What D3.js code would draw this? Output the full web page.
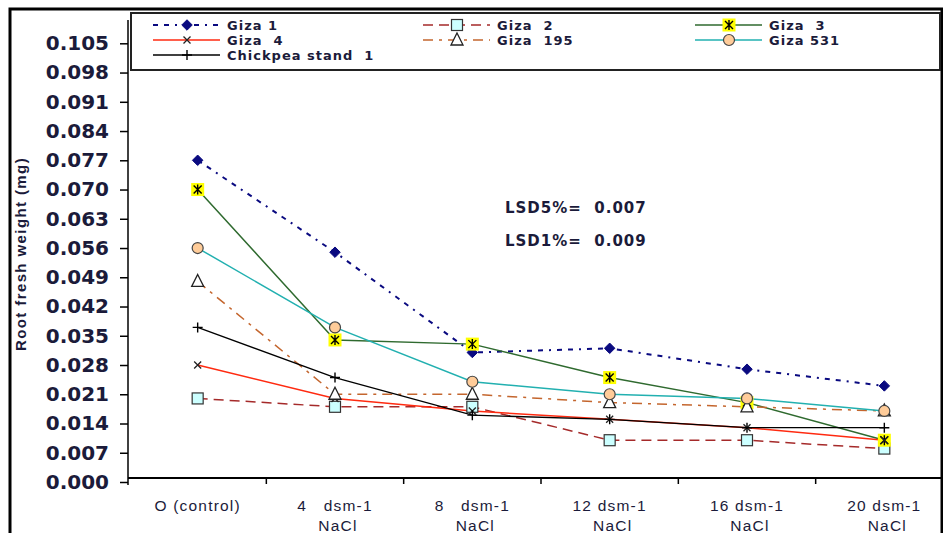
<!DOCTYPE html>
<html>
<head>
<meta charset="utf-8">
<script src="https://cdn.jsdelivr.net/npm/d3@7/dist/d3.min.js"></script>
<style>
  html, body { margin: 0; padding: 0; background: #fff; }
  svg { display: block; }
</style>
</head>
<body>
<script>
// Salinity levels (x categories), two-line labels
const categories = ["c0", "c4", "c8", "c12", "c16", "c20"];
const labelLine1 = ["O (control)", "4   dsm-1", "8   dsm-1", "12 dsm-1", "16 dsm-1", "20 dsm-1"];
const labelLine2 = ["", "NaCl", "NaCl", "NaCl", "NaCl", "NaCl"];

// Root fresh weight (mg) per genotype
const giza1    = [0.077, 0.055, 0.031, 0.032, 0.027, 0.023];
const giza2    = [0.020, 0.018, 0.018, 0.010, 0.010, 0.008];
const giza3    = [0.070, 0.034, 0.033, 0.025, 0.019, 0.010];
const giza4    = [0.028, 0.020, 0.017, 0.015, 0.013, 0.010];
const giza195  = [0.048, 0.021, 0.021, 0.019, 0.018, 0.017];
const giza531  = [0.056, 0.037, 0.024, 0.021, 0.020, 0.017];
const chickpea = [0.037, 0.025, 0.016, 0.015, 0.013, 0.013];

const yTicks = [0, 0.007, 0.014, 0.021, 0.028, 0.035, 0.042, 0.049, 0.056, 0.063,
                0.070, 0.077, 0.084, 0.091, 0.098, 0.105];

const series = [
  { name: "Giza 1",            values: giza1,    color: "#0a0a80", dash: "5,6,5,6,2,6", width: 2,   marker: "diamond" },
  { name: "Giza  2",           values: giza2,    color: "#a52a2a", dash: "10,6",    width: 1.5, marker: "square" },
  { name: "Giza  3",           values: giza3,    color: "#2f6a2f", dash: null,      width: 1.5, marker: "star" },
  { name: "Giza  4",           values: giza4,    color: "#ff2a10", dash: null,      width: 1.5, marker: "x" },
  { name: "Giza  195",         values: giza195,  color: "#c4662e", dash: "10,6,3,6", width: 1.5, marker: "triangle" },
  { name: "Giza 531",          values: giza531,  color: "#22b0b0", dash: null,      width: 1.5, marker: "circle" },
  { name: "Chickpea stand  1", values: chickpea, color: "#000000", dash: null,      width: 1.3, marker: "plus" }
];

// keep repeated spaces visible in SVG text
const keepSpaces = s => s.replace(/ {2,}/g, m => " " + "\u00a0".repeat(m.length - 1));

const W = 943, H = 533;
const svg = d3.select("body").append("svg").attr("width", W).attr("height", H);

const x = d3.scaleBand().domain(categories).range([129, 953]);
const y = d3.scaleLinear().domain([0, 0.105]).range([482, 43.3]);
const cx = c => x(c) + x.bandwidth() / 2;

const textColor = "#1b1b3a";

// outer frame
svg.append("rect").attr("x", 10).attr("y", 9).attr("width", 932).attr("height", 600)
  .attr("fill", "none").attr("stroke", "#000").attr("stroke-width", 3);

// y axis
const yAxis = svg.append("g").attr("transform", "translate(128,0)")
  .call(d3.axisLeft(y).tickValues(yTicks).tickFormat(d3.format(".3f")).tickSize(8).tickSizeOuter(0));
yAxis.select(".domain").remove();
yAxis.selectAll(".tick line").attr("stroke", "#000").attr("stroke-width", 1.5);
yAxis.selectAll(".tick text")
  .attr("x", -19)
  .style("font-family", "'DejaVu Sans', Verdana, sans-serif")
  .style("font-weight", "bold").style("font-size", "20px")
  .attr("fill", textColor);
svg.append("line").attr("x1", 128).attr("x2", 128).attr("y1", 20).attr("y2", 485)
  .attr("stroke", "#000").attr("stroke-width", 1.5);

// x axis
const xAxisY = 478;
const xAxis = svg.append("g").attr("transform", `translate(0,${xAxisY})`)
  .call(d3.axisBottom(x).tickSize(0).tickFormat(""));
xAxis.select(".domain").remove();
svg.append("line").attr("x1", 128).attr("x2", W).attr("y1", xAxisY).attr("y2", xAxisY)
  .attr("stroke", "#000").attr("stroke-width", 2);
categories.slice(1).forEach(c => {
  svg.append("line").attr("x1", x(c)).attr("x2", x(c)).attr("y1", xAxisY).attr("y2", xAxisY + 6)
    .attr("stroke", "#000").attr("stroke-width", 1.5);
});
const xl = svg.append("g").attr("fill", textColor)
  .style("font-family", "'Liberation Sans', Arial, sans-serif")
  .style("font-size", "15.5px").style("letter-spacing", "1.2px");
categories.forEach((c, i) => {
  xl.append("text").attr("x", cx(c)).attr("y", 511).attr("text-anchor", "middle").text(keepSpaces(labelLine1[i]));
  xl.append("text").attr("x", cx(c) + 3).attr("y", 531).attr("text-anchor", "middle").text(labelLine2[i]);
});

// y axis title
svg.append("text")
  .attr("transform", "translate(26,254) rotate(-90)")
  .attr("text-anchor", "middle")
  .style("font-family", "'Liberation Sans', Arial, sans-serif")
  .style("font-weight", "bold").style("font-size", "15px").style("letter-spacing", "1.4px")
  .attr("fill", textColor)
  .text("Root fresh weight (mg)");

// marker drawing
function drawMarker(g, s, px, py) {
  switch (s.marker) {
    case "diamond":
      g.append("path").attr("d", d3.symbol(d3.symbolDiamond2, 70)())
        .attr("transform", `translate(${px},${py})`).attr("fill", "#0a0a80").attr("stroke", "#0a0a80");
      break;
    case "square":
      g.append("rect").attr("x", px - 5.5).attr("y", py - 5.5).attr("width", 11).attr("height", 11)
        .attr("fill", "#ccffff").attr("stroke", "#333").attr("stroke-width", 1.2);
      break;
    case "star":
      g.append("rect").attr("x", px - 6.5).attr("y", py - 6.5).attr("width", 13).attr("height", 13)
        .attr("fill", "#ffff00");
      g.append("path").attr("d", `M${px-4},${py-4}L${px+4},${py+4}M${px-4},${py+4}L${px+4},${py-4}M${px},${py-5}L${px},${py+5}`)
        .attr("stroke", "#000").attr("stroke-width", 1.4);
      break;
    case "x":
      g.append("path").attr("d", `M${px-3.5},${py-3.5}L${px+3.5},${py+3.5}M${px-3.5},${py+3.5}L${px+3.5},${py-3.5}`)
        .attr("stroke", "#222").attr("stroke-width", 1.3);
      break;
    case "triangle":
      g.append("path").attr("d", `M${px},${py-7}L${px+6},${py+5}L${px-6},${py+5}Z`)
        .attr("fill", "#fff").attr("stroke", "#222").attr("stroke-width", 1.3);
      break;
    case "circle":
      g.append("circle").attr("cx", px).attr("cy", py).attr("r", 5.5)
        .attr("fill", "#ffcc99").attr("stroke", "#444").attr("stroke-width", 1.2);
      break;
    case "plus":
      g.append("path").attr("d", `M${px-5},${py}L${px+5},${py}M${px},${py-5}L${px},${py+5}`)
        .attr("stroke", "#000").attr("stroke-width", 1.4);
      break;
  }
}

// series lines and markers
const line = d3.line().x((d, i) => cx(categories[i])).y(d => y(d));
const plot = svg.append("g");
series.forEach(s => {
  plot.append("path").datum(s.values).attr("d", line)
    .attr("fill", "none").attr("stroke", s.color).attr("stroke-width", s.width)
    .attr("stroke-dasharray", s.dash);
});
series.forEach(s => {
  const g = plot.append("g");
  s.values.forEach((v, i) => drawMarker(g, s, cx(categories[i]), y(v)));
});

// LSD annotations
const lsd = svg.append("g").attr("fill", textColor)
  .style("font-family", "'DejaVu Sans', Verdana, sans-serif")
  .style("font-weight", "bold").style("font-size", "15px")
  .style("letter-spacing", "1px");
lsd.append("text").attr("x", 505).attr("y", 213).text(keepSpaces("LSD5%=  0.007"));
lsd.append("text").attr("x", 505).attr("y", 246).text(keepSpaces("LSD1%=  0.009"));

// legend
const legend = svg.append("g");
legend.append("rect").attr("x", 131).attr("y", 13).attr("width", 809).attr("height", 57)
  .attr("fill", "#fff").attr("stroke", "#222").attr("stroke-width", 2);
const legendPos = [
  [153, 25], [423, 25], [695, 25],
  [153, 40], [423, 40], [695, 40],
  [153, 55]
];
series.forEach((s, i) => {
  const [lx, ly] = legendPos[i];
  const g = legend.append("g");
  g.append("line").attr("x1", lx).attr("x2", lx + 67).attr("y1", ly).attr("y2", ly)
    .attr("stroke", s.color).attr("stroke-width", s.width).attr("stroke-dasharray", s.dash);
  drawMarker(g, s, lx + 34, ly);
  g.append("text").attr("x", lx + 74).attr("y", ly).attr("dy", "0.36em")
    .attr("fill", textColor)
    .style("font-family", "'DejaVu Sans', Verdana, sans-serif")
    .style("font-weight", "bold").style("font-size", "13px")
    .style("letter-spacing", "1px")
    .text(keepSpaces(s.name));
});
</script>
</body>
</html>
